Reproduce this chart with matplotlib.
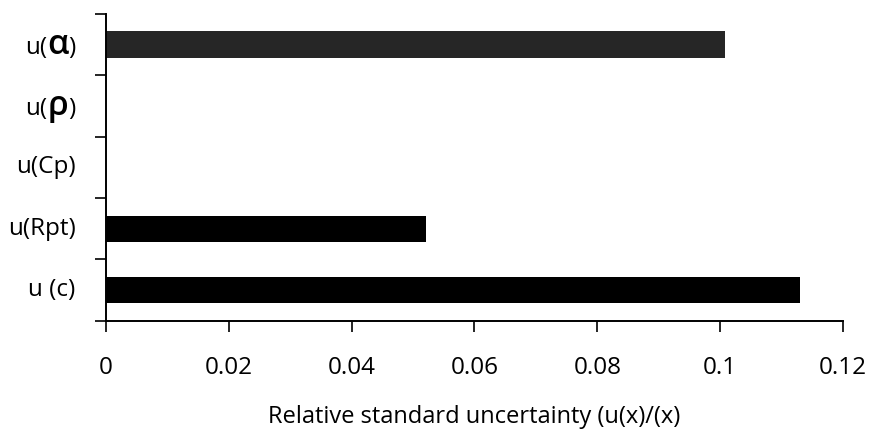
import matplotlib
matplotlib.use("Agg")
import matplotlib.pyplot as plt
from matplotlib.offsetbox import TextArea, HPacker, AnnotationBbox
import numpy as np

# Datos: incertidumbre estándar relativa por componente (de abajo hacia arriba)
componentes = ["u (c)", "u(Rpt)", "u(Cp)", "u(ρ)", "u(α)"]
valores = [0.1130, 0.0521, 0.0, 0.0, 0.1008]
colores = ["#000000", "#000000", "#000000", "#000000", "#262626"]
x_ticks = [0, 0.02, 0.04, 0.06, 0.08, 0.1, 0.12]
x_ticklabels = ["0", "0.02", "0.04", "0.06", "0.08", "0.1", "0.12"]

plt.rcParams["font.family"] = ["Open Sans", "DejaVu Sans"]

fig = plt.figure(figsize=(8.69, 4.33), dpi=100)
ax = fig.add_axes([0.122, 0.259, 0.848, 0.709])

y = np.arange(len(componentes))
ax.barh(y, valores, height=0.43, color=colores)

ax.set_xlim(0, 0.12)
ax.set_ylim(-0.5, len(componentes) - 0.5)

# Eje X
ax.set_xticks(x_ticks)
ax.set_xticklabels(x_ticklabels)
ax.tick_params(axis="x", direction="out", length=8, width=1.2, pad=17,
               labelsize=17.5, color="black")
ax.set_xlabel("Relative standard uncertainty (u(x)/(x)", fontsize=17, labelpad=18)

# Eje Y: marcas entre categorías, etiquetas centradas
ax.set_yticks(np.arange(-0.5, len(componentes), 1.0))
ax.set_yticklabels([])
ax.tick_params(axis="y", which="major", direction="out", length=8, width=1.2)

tam = 17.5
for yi, nombre in zip(y, componentes):
    # letras griegas más grandes, como en el original
    if "α" in nombre or "ρ" in nombre:
        partes = [TextArea("u(", textprops=dict(size=tam)),
                  TextArea(nombre[2], textprops=dict(size=tam * 1.4, weight="semibold")),
                  TextArea(")", textprops=dict(size=tam))]
    else:
        partes = [TextArea(nombre, textprops=dict(size=tam))]
    caja = HPacker(children=partes, align="baseline", pad=0, sep=0)
    ab = AnnotationBbox(caja, (0, yi), xycoords=ax.get_yaxis_transform(),
                        xybox=(-22, 0), boxcoords="offset points",
                        box_alignment=(1, 0.5), frameon=False, pad=0)
    ax.add_artist(ab)

ax.spines["top"].set_visible(False)
ax.spines["right"].set_visible(False)
ax.spines["left"].set_linewidth(1.4)
ax.spines["bottom"].set_linewidth(1.4)

fig.savefig("out.png", dpi=100)
plt.close(fig)
